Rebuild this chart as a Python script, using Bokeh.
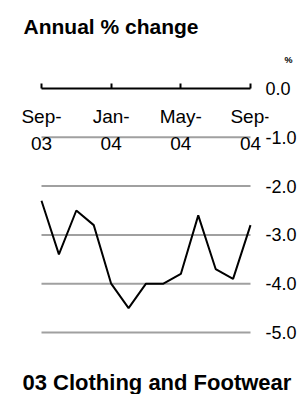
from bokeh.plotting import figure
from bokeh.models import Range1d, FixedTicker, Title
from bokeh.embed import file_html
from bokeh.resources import INLINE

# ---- data ----
months = ["Sep-03", "Oct-03", "Nov-03", "Dec-03", "Jan-04", "Feb-04", "Mar-04",
          "Apr-04", "May-04", "Jun-04", "Jul-04", "Aug-04", "Sep-04"]
annual_change = [-2.3, -3.4, -2.5, -2.8, -4.0, -4.5, -4.0, -4.0, -3.8, -2.6, -3.7, -3.9, -2.8]
x_tick_months = ["Sep-03", "Jan-04", "May-04", "Sep-04"]
x_tick_labels = ["Sep-\n03", "Jan-\n04", "May-\n04", "Sep-\n04"]
y_ticks = [0.0, -1.0, -2.0, -3.0, -4.0, -5.0]
y_tick_labels = ["0.0", "-1.0", "-2.0", "-3.0", "-4.0", "-5.0"]
grid_values = [-1.0, -2.0, -3.0, -4.0, -5.0]
title_text = "Annual % change"
caption_text = "03  Clothing and Footwear"
unit_text = "%"

FONT = "Liberation Sans"
xs = list(range(len(months)))
x_first, x_last = xs[0], xs[-1]
x_tick_pos = [months.index(m) for m in x_tick_months]

p = figure(frame_width=252, frame_height=300, output_backend="svg", toolbar_location=None,
           x_range=Range1d(-1.435, 13.033), y_range=Range1d(-5.717, 0.430),
           y_axis_location="right", min_border_left=16, min_border_right=0,
           min_border_top=0, min_border_bottom=0)
p.outline_line_color = None
p.background_fill_color = "white"
p.border_fill_color = "white"

# titles (main title outermost, unit marker next to the frame)
p.title.text = title_text
p.title.text_font = FONT
p.title.text_font_size = "21px"
p.title.text_font_style = "bold"
p.title.text_color = "black"
p.title.align = "left"
p.title.offset = 7
p.title.standoff = 25

p.add_layout(Title(text=unit_text, text_font=FONT, text_font_size="9px",
                   text_font_style="bold", text_color="black", align="right",
                   offset=-24, standoff=5), "above")

p.add_layout(Title(text=caption_text, text_font=FONT, text_font_size="22px",
                   text_font_style="bold", text_color="black", align="left",
                   offset=6, standoff=0), "below")

# horizontal grid lines spanning the data period
p.multi_line(xs=[[x_first, x_last] for _ in grid_values],
             ys=[[g, g] for g in grid_values],
             line_color="#a0a0a0", line_width=2)

# x axis at zero
xa = p.xaxis[0]
xa.fixed_location = 0
xa.bounds = (x_first, x_last)
xa.ticker = FixedTicker(ticks=x_tick_pos)
xa.major_label_overrides = {pos: lab for pos, lab in zip(x_tick_pos, x_tick_labels)}
xa.axis_line_width = 2
xa.axis_line_color = "black"
xa.major_tick_in = 5
xa.major_tick_out = 0
xa.major_tick_line_width = 2
xa.minor_tick_line_color = None
xa.major_label_standoff = 18
xa.major_label_text_font = FONT
xa.major_label_text_font_size = "19px"
xa.major_label_text_line_height = 1.27
xa.major_label_text_color = "black"

# y axis on right
ya = p.yaxis[0]
ya.ticker = FixedTicker(ticks=y_ticks)
ya.major_label_overrides = {v: lab for v, lab in zip(y_ticks, y_tick_labels)}
ya.axis_line_color = None
ya.major_tick_line_color = None
ya.major_tick_out = 0
ya.major_tick_in = 0
ya.minor_tick_line_color = None
ya.major_label_standoff = -3
ya.major_label_text_font = FONT
ya.major_label_text_font_size = "18px"
ya.major_label_text_color = "black"

p.xgrid.grid_line_color = None
p.ygrid.grid_line_color = None

p.line(xs, annual_change, line_color="black", line_width=2)

open("out.html", "w").write(file_html(p, INLINE))
